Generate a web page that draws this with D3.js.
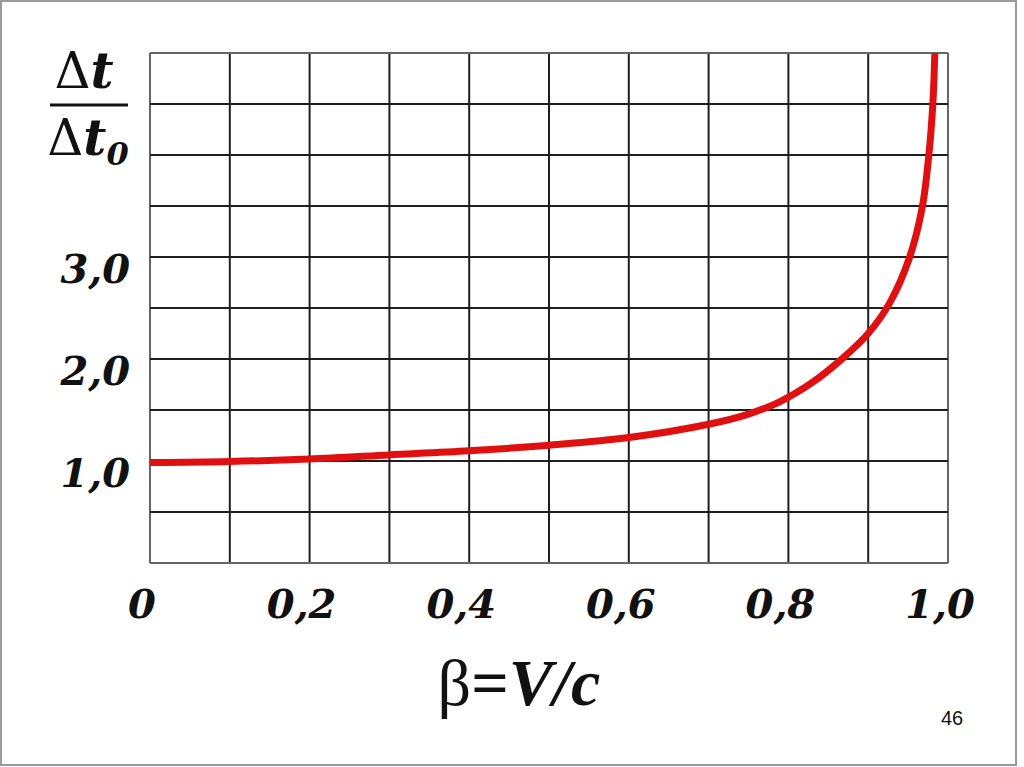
<!DOCTYPE html>
<html><head><meta charset="utf-8">
<script src="https://cdn.jsdelivr.net/npm/d3@7"></script>
<style>html,body{margin:0;padding:0;background:#fff;}svg{display:block;}</style>
</head><body>
<svg id="chart" width="1024" height="767"></svg>
<script>
const betaValues  = [0, 0.1, 0.2, 0.3, 0.4, 0.5, 0.6, 0.7, 0.75, 0.789, 0.83, 0.867, 0.9, 0.927, 0.952, 0.968, 0.976, 0.981, 0.9835];
const ratioValues = [0.985, 0.995, 1.02, 1.06, 1.10, 1.155, 1.23, 1.36, 1.46, 1.58, 1.77, 2.0, 2.25, 2.55, 3.0, 3.5, 4.0, 4.5, 5.0];
const xTickValues = [0, 0.2, 0.4, 0.6, 0.8, 1.0];
const xTickLabels = ["0", "0,2", "0,4", "0,6", "0,8", "1,0"];
const yTickValues = [1, 2, 3];
const yTickLabels = ["1,0", "2,0", "3,0"];
const xGrid = d3.range(0, 11).map(i => i / 10);
const yGrid = d3.range(0, 11).map(i => i / 2);
const pageNumber = "46";

const svg = d3.select("#chart");
svg.append("rect").attr("x", 1).attr("y", 1).attr("width", 1015).attr("height", 764)
  .attr("fill", "#fff").attr("stroke", "#9a9a9a").attr("stroke-width", 2);

const x = d3.scaleLinear().domain([0, 1]).range([150, 948]);
const y = d3.scaleLinear().domain([0, 5]).range([563, 53]);

const g = svg.append("g");
g.selectAll("line.v").data(xGrid).join("line")
  .attr("x1", d => x(d)).attr("x2", d => x(d)).attr("y1", y(0)).attr("y2", y(5))
  .attr("stroke", (d, i) => (i === 0 || i === xGrid.length - 1) ? "#666" : "#1e1e1e")
  .attr("stroke-width", 2);
g.selectAll("line.h").data(yGrid).join("line")
  .attr("x1", x(0)).attr("x2", x(1)).attr("y1", d => y(d)).attr("y2", d => y(d))
  .attr("stroke", (d, i) => (i === 0 || i === yGrid.length - 1) ? "#666" : "#1e1e1e")
  .attr("stroke-width", 2);

const pts = betaValues.map((b, i) => [b, ratioValues[i]]);
g.append("path").datum(pts)
  .attr("d", d3.line().x(d => x(d[0])).y(d => y(d[1])).curve(d3.curveCatmullRom.alpha(0.5)))
  .attr("fill", "none").attr("stroke", "#e01010").attr("stroke-width", 7).attr("stroke-linecap", "butt");

const dserif = "'DejaVu Serif', serif";
const lserif = "'Liberation Serif', 'DejaVu Serif', serif";
g.selectAll("text.xt").data(xTickValues).join("text")
  .attr("x", d => x(d) - 8).attr("y", 618)
  .attr("text-anchor", "middle")
  .attr("font-family", dserif).attr("font-weight", "bold").attr("font-style", "italic")
  .attr("font-size", 40).attr("fill", "#111")
  .text((d, i) => xTickLabels[i]);
g.selectAll("text.yt").data(yTickValues).join("text")
  .attr("x", 130).attr("y", d => y(d) + 26)
  .attr("text-anchor", "end")
  .attr("font-family", dserif).attr("font-weight", "bold").attr("font-style", "italic")
  .attr("font-size", 40).attr("fill", "#111")
  .text((d, i) => yTickLabels[i]);

const xt = svg.append("text").attr("x", 519).attr("y", 705).attr("text-anchor", "middle")
  .attr("font-family", lserif).attr("font-size", 66).attr("fill", "#111");
xt.append("tspan").text("β");
xt.append("tspan").attr("font-weight", "bold").text("=");
xt.append("tspan").attr("font-weight", "bold").attr("font-style", "italic").text("V/c");

const yt1 = svg.append("text").attr("x", 84).attr("y", 88).attr("text-anchor", "middle")
  .attr("font-family", dserif).attr("font-size", 50).attr("fill", "#111");
yt1.append("tspan").text("Δ");
yt1.append("tspan").attr("font-weight", "bold").attr("font-style", "italic").text("t");
svg.append("line").attr("x1", 50).attr("x2", 128).attr("y1", 105).attr("y2", 105)
  .attr("stroke", "#111").attr("stroke-width", 3);
const yt2 = svg.append("text").attr("x", 88).attr("y", 155).attr("text-anchor", "middle")
  .attr("font-family", dserif).attr("font-size", 50).attr("fill", "#111");
yt2.append("tspan").text("Δ");
yt2.append("tspan").attr("font-weight", "bold").attr("font-style", "italic").text("t");
yt2.append("tspan").attr("font-weight", "bold").attr("font-style", "italic").attr("font-size", 32).attr("dy", 10).text("0");

svg.append("text").attr("x", 952).attr("y", 725).attr("text-anchor", "middle")
  .attr("font-family", "'Liberation Sans', Arial, sans-serif").attr("font-size", 20).attr("fill", "#111")
  .text(pageNumber);
</script>
</body></html>
